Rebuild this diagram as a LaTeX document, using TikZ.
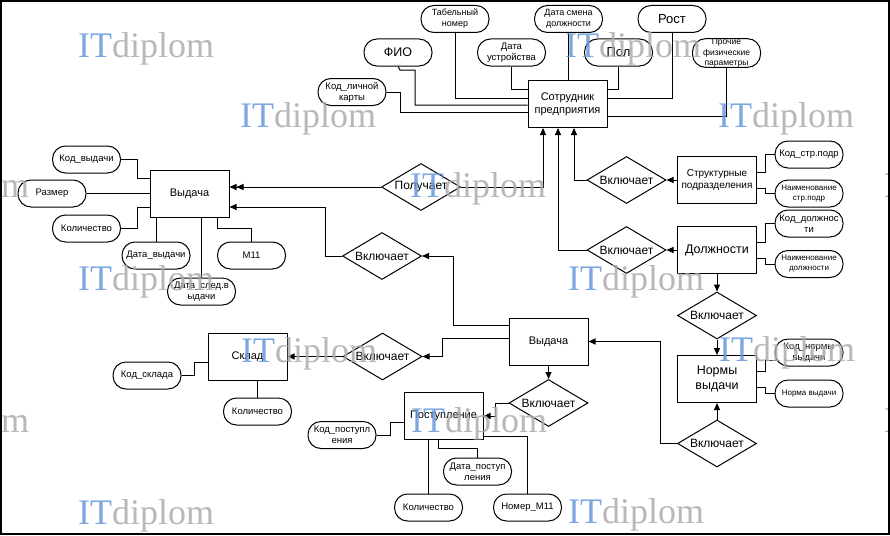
\documentclass[tikz,border=0pt]{standalone}
\usepackage{fontspec}
\setmainfont{Liberation Sans}
\newfontfamily\wmfont{Liberation Serif}
\usetikzlibrary{shapes.geometric,arrows.meta}
\definecolor{wmblue}{RGB}{104,152,222}
\definecolor{wmgray}{RGB}{172,172,172}
\tikzset{
  ent/.style={draw, line width=1pt, fill=white, minimum width=79pt, minimum height=47pt, inner sep=0pt, align=center, font=\fontsize{11}{13}\selectfont},
  rel/.style={draw, line width=1pt, diamond, aspect=1.68, minimum width=79pt, minimum height=47pt, inner sep=0pt, fill=white, font=\fontsize{12}{14}\selectfont},
  attr/.style={draw, line width=1pt, rounded corners=13pt, minimum width=68pt, minimum height=27pt, inner sep=0pt, align=center, fill=white, font=\fontsize{9.5}{11}\selectfont},
  conn/.style={line width=1pt},
  arr/.style={line width=1pt, -{Triangle[length=7pt,width=6pt]}},
  arrtwo/.style={line width=1pt, -{Triangle[length=7pt,width=6pt]Triangle[length=7pt,width=6pt]}},
  wm/.style={anchor=base west, inner sep=0pt, opacity=0.85, font=\wmfont\fontsize{36}{36}\selectfont}
}
\newcommand{\wmtext}{\textcolor{wmblue}{IT}\textcolor{wmgray}{diplom}}
\begin{document}
\begin{tikzpicture}[x=1pt,y=-1pt]
\useasboundingbox (0,0) rectangle (890,535);
\fill[black] (0,0) rectangle (890,535);
\fill[white] (2,2) rectangle (887.5,532.5);
\clip (2,2) rectangle (887.5,532.5);

% entities
\node[ent] (emp) at (567.5,104) {Сотрудник\\предприятия};
\node[ent] (vyd1) at (189.5,193.5) {Выдача};
\node[ent, font=\fontsize{10}{12}\selectfont] (str) at (717,180) {Структурные\\подразделения};
\node[ent, font=\fontsize{12.5}{14}\selectfont] (dol) at (717,250) {Должности};
\node[ent, font=\fontsize{12.5}{15}\selectfont] (norm) at (717,379) {Нормы\\выдачи};
\node[ent] (vyd2) at (548.5,341.5) {Выдача};
\node[ent] (sklad) at (247.5,356.5) {Склад};
\node[ent] (post) at (443.5,416) {Поступление};

% relationships
\node[rel] (rPol) at (421,187) {Получает};
\node[rel] (rV1) at (382,256) {Включает};
\node[rel] (rStr) at (626.5,180) {Включает};
\node[rel] (rDol) at (626.5,250) {Включает};
\node[rel] (rDN) at (717,315.5) {Включает};
\node[rel] (rNB) at (717,443.5) {Включает};
\node[rel] (rSk) at (382.5,356.5) {Включает};
\node[rel] (rPost) at (548.5,403) {Включает};

% attributes
\node[attr, font=\fontsize{9}{11}\selectfont] (aTab) at (455,19) {Табельный\\номер};
\node[attr, font=\fontsize{9}{11}\selectfont] (aDsm) at (568.5,19) {Дата смена\\должности};
\node[attr, font=\fontsize{13}{15}\selectfont] (aRost) at (672,19) {Рост};
\node[attr, font=\fontsize{12.5}{15}\selectfont] (aFio) at (398,52.5) {ФИО};
\node[attr] (aDu) at (511.5,52.5) {Дата\\устройства};
\node[attr, font=\fontsize{13}{15}\selectfont] (aPol) at (618.5,52.5) {Пол};
\node[attr, font=\fontsize{8.5}{10.5}\selectfont] (aProch) at (726.5,53) {Прочие\\физические\\параметры};
\node[attr] (aKlk) at (352,92) {Код\_личной\\карты};
\node[attr] (aKv) at (86.5,159.5) {Код\_выдачи};
\node[attr] (aRaz) at (52,193.5) {Размер};
\node[attr] (aKol1) at (86.5,228.5) {Количество};
\node[attr] (aDv) at (156,255.5) {Дата\_выдачи};
\node[attr] (aDsv) at (201.5,291.5) {Дата\_след.в\\ыдачи};
\node[attr] (aM11) at (251.5,255.5) {М11};
\node[attr] (aKsp) at (809,154.5) {Код\_стр.подр};
\node[attr, font=\fontsize{8}{10}\selectfont] (aNsp) at (809,193.5) {Наименование\\стр.подр};
\node[attr] (aKd) at (809,223.5) {Код\_должнос\\ти};
\node[attr, font=\fontsize{8}{10}\selectfont] (aNd) at (809,264) {Наименование\\должности};
\node[attr] (aKn) at (809,352.5) {Код\_нормы\\выдачи};
\node[attr, font=\fontsize{8}{10}\selectfont] (aNv) at (809,393.5) {Норма выдачи};
\node[attr] (aKs) at (147,375.5) {Код\_склада};
\node[attr] (aKol2) at (257.5,411.5) {Количество};
\node[attr] (aKp) at (342,435) {Код\_поступл\\ения};
\node[attr] (aDp) at (477.5,471.5) {Дата\_поступ\\ления};
\node[attr] (aKol3) at (428.5,507.5) {Количество};
\node[attr] (aNm) at (527.5,507.5) {Номер\_М11};

% employee attributes
\draw[conn] (aTab.south) |- (emp.west |- 0,98);
\draw[conn] (aDu.south) |- (emp.west |- 0,89);
\draw[conn] (aDsm.south) -- (aDsm.south |- emp.north);
\draw[conn] (aFio.south) -- (400,70) -- (415,70) |- (emp.west |- 0,105);
\draw[conn] (aKlk.east) -- (400,92) |- (emp.west |- 0,112);
\draw[conn] (aPol.south) |- (emp.east |- 0,89);
\draw[conn] (aRost.south) |- (emp.east |- 0,98);
\draw[conn] (aProch.south) |- (emp.east |- 0,116);

% arrows into employee
\draw[arr] (rPol.east) -| (emp.south -| 543,0);
\draw[arr] (rDol.west) -| (emp.south -| 558,0);
\draw[arr] (rStr.west) -| (emp.south -| 574,0);

\draw[arr] (str.west) -- (rStr.east);
\draw[arr] (dol.west) -- (rDol.east);
\draw[arr] (dol.south) -- (rDN.north);
\draw[arr] (rDN.south) -- (norm.north);
\draw[arr] (rNB.north) -- (norm.south);
\draw[arr] (rNB.west) -| (vyd2.east -| 660,0) -- (vyd2.east);

% right attributes
\draw[conn] (str.east |- 0,172) -- (765,172) |- (aKsp.west);
\draw[conn] (str.east |- 0,188) -- (765,188) |- (aNsp.west);
\draw[conn] (dol.east |- 0,242) -- (765,242) |- (aKd.west);
\draw[conn] (dol.east |- 0,258) -- (765,258) |- (aNd.west);
\draw[conn] (norm.east |- 0,371) -- (765,371) |- (777.3,360);
\draw[conn] (norm.east |- 0,387) -- (765,387) |- (aNv.west);

% middle Выдача
\draw[arr] (vyd2.west |- 0,338) -- (442,338) |- (rSk.east);
\draw[arr] (rSk.west) -- (sklad.east);
\draw[arr] (vyd2.west |- 0,325) -| (rV1.east -| 453,0) -- (rV1.east);
\draw[arr] (rV1.west) -- (325,256) |- (vyd1.east |- 0,207);
\draw[arrtwo] (rPol.west) -- (vyd1.east |- rPol.west);
\draw[arr] (vyd2.south) -- (rPost.north);
\draw[arr] (rPost.west) -- (495,403) |- (post.east);

% left Выдача attributes
\draw[conn] (aKv.east) -- (137,159.5) |- (vyd1.west |- 0,178);
\draw[conn] (aRaz.east) -- (vyd1.west);
\draw[conn] (aKol1.east) -- (137,228.5) |- (vyd1.west |- 0,207);
\draw[conn] (vyd1.south -| aDv.north) -- (aDv.north);
\draw[conn] (vyd1.south -| aDsv.north) -- (aDsv.north);
\draw[conn] (vyd1.south -| 217,0) -- (217,228) -| (aM11.north);

% Склад
\draw[conn] (aKs.east) -- (194,375.5) |- (sklad.west |- 0,362);
\draw[conn] (sklad.south -| aKol2.north) -- (aKol2.north);

% Поступление
\draw[conn] (aKp.east) -- (390,435) |- (post.west |- 0,422);
\draw[conn] (post.south -| 438,0) -- (438,448) -| (aDp.north);
\draw[conn] (post.south -| aKol3.north) -- (aKol3.north);
\draw[conn] (post.east |- 0,436) -| (aNm.north);

% watermarks
\node[wm] (w1) at (78,57) {\wmtext};
\node[wm] (w2) at (240,127) {\wmtext};
\node[wm] (w3) at (565,57) {\wmtext};
\node[wm] (w4) at (718,127) {\wmtext};
\node[wm] (w5) at (-107,197) {\wmtext};
\node[wm] (w6) at (410,197) {\wmtext};
\node[wm] (w7) at (78,290) {\wmtext};
\node[wm] (w8) at (568,290) {\wmtext};
\node[wm] (w9) at (241,362) {\wmtext};
\node[wm] (w10) at (719,361) {\wmtext};
\node[wm] (w11) at (-107,432) {\wmtext};
\node[wm] (w12) at (411,432) {\wmtext};
\node[wm] (w13) at (78,524) {\wmtext};
\node[wm] (w14) at (568,523) {\wmtext};
\node[wm] (w15) at (884,197) {\wmtext};
\node[wm] (w16) at (884,432) {\wmtext};
\end{tikzpicture}
\end{document}
